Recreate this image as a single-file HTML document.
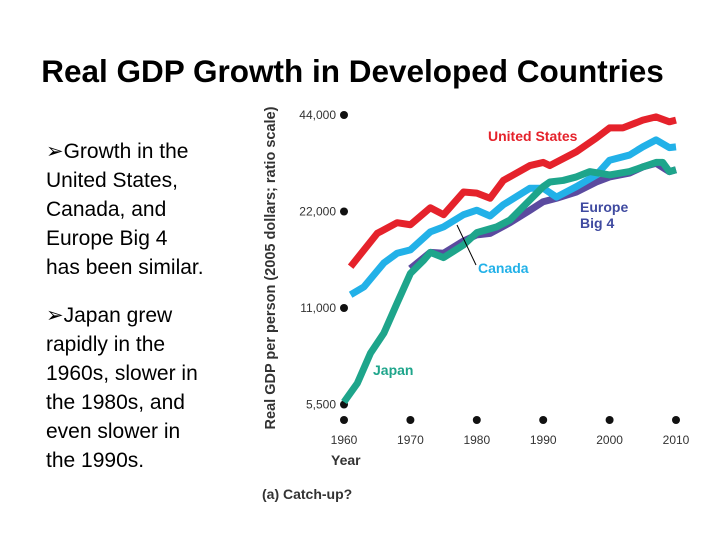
<!DOCTYPE html>
<html><head><meta charset="utf-8"><style>
body{margin:0;background:#fff;width:720px;height:540px;overflow:hidden;position:relative;font-family:"Liberation Sans",Arial,sans-serif}
#title{position:absolute;left:0;width:705px;top:53px;text-align:center;font-size:31.5px;font-weight:bold;color:#000;white-space:nowrap}
.bul{position:absolute;left:46px;font-size:21px;line-height:29px;color:#000}
svg{position:absolute;left:0;top:0}
</style></head><body>
<div id="title">Real GDP Growth in Developed Countries</div>
<div class="bul" style="top:137px">➢Growth in the<br>United States,<br>Canada, and<br>Europe Big 4<br>has been similar.</div>
<div class="bul" style="top:301px">➢Japan grew<br>rapidly in the<br>1960s, slower in<br>the 1980s, and<br>even slower in<br>the 1990s.</div>
<svg id="chart" width="720" height="540"></svg>
<script>
const xTicks=[1960,1970,1980,1990,2000,2010];
const yTicks=[5500,11000,22000,44000];
const yTickLabels=["5,500","11,000","22,000","44,000"];
const usYears=[1961,1965,1968,1970,1973,1975,1978,1980,1982,1984,1988,1990,1991,1995,1998,2000,2002,2005,2007,2009,2010];
const usVals=[14800,18800,20300,20000,22600,21500,25300,25100,24200,27500,30600,31300,30600,33800,37300,40100,40100,42400,43400,41900,42400];
const caYears=[1961,1963,1966,1968,1970,1973,1975,1978,1980,1982,1984,1988,1990,1992,1995,1998,2000,2003,2005,2007,2009,2010];
const caVals=[12100,12800,15200,16300,16700,19000,19700,21500,22200,21300,23100,26000,26000,24400,26300,28600,31800,33000,35000,36800,34800,35000];
const euYears=[1970,1973,1975,1978,1980,1982,1985,1988,1990,1992,1995,1998,2000,2003,2005,2007,2009,2010];
const euVals=[14600,16400,16300,17800,18600,18800,20300,22200,23600,24200,25300,27200,28200,29000,30300,31100,29300,29700];
const jpYears=[1960,1962,1964,1966,1968,1970,1972,1973,1975,1978,1980,1983,1985,1988,1990,1991,1993,1995,1997,2000,2003,2005,2007,2008,2009,2010];
const jpVals=[5600,6400,7960,9180,11400,14100,15500,16400,15800,17300,18900,19700,20700,23900,26300,27200,27500,28200,29300,28600,29300,30300,31300,31300,29300,29700];
const svg=document.getElementById('chart');const NS='http://www.w3.org/2000/svg';
const xS=y=>344+(y-1960)*6.64;
const yS=v=>115+Math.log2(44000/v)*96.5;
function mk(t,a,txt){const e=document.createElementNS(NS,t);for(const k in a)e.setAttribute(k,a[k]);if(txt!=null)e.textContent=txt;svg.appendChild(e);return e;}
yTicks.forEach((v,i)=>{
 const c=mk('circle',{cx:344,cy:yS(v),r:4,fill:'#111'});
 
 
 const t=mk('text',{x:336,y:yS(v)+4,'text-anchor':'end','font-size':12,fill:'#333'},yTickLabels[i]);
 
 
});
xTicks.forEach(v=>{
 const c=mk('circle',{cx:xS(v),cy:420,r:4,fill:'#111'});
 
 
 const t=mk('text',{x:xS(v),y:444,'text-anchor':'middle','font-size':12,fill:'#333'},String(v));
 
 
});
function line(ys,vs,col,name){
 const p=mk('polyline',{points:ys.map((y,i)=>xS(y)+','+yS(vs[i])).join(' '),fill:'none',stroke:col,'stroke-width':7,'stroke-linejoin':'round'});
 
 
}
line(euYears,euVals,'#5b4a9f','europe-line');
line(caYears,caVals,'#22b1e8','canada-line');
line(jpYears,jpVals,'#1ea58b','japan-line');
line(usYears,usVals,'#e5222b','us-line');
const l=mk('line',{x1:457,y1:225,x2:476,y2:265,stroke:'#000','stroke-width':1});


function lab(x,y,txt,col,name,anchor){const t=mk('text',{x:x,y:y,'font-size':14,'font-weight':'bold',fill:col,'text-anchor':anchor||'start'},txt);}
lab(488,141,'United States','#e5222b','us-label');
lab(478,273,'Canada','#22b1e8','canada-label');
lab(580,212,'Europe','#3f4aa0','europe-label');
lab(580,228,'Big 4','#3f4aa0','europe-label-2');
lab(373,375,'Japan','#1ea58b','japan-label');
lab(331,465,'Year','#333','x-axis-title');
lab(262,499,'(a) Catch-up?','#333','chart-caption');
const yt=mk('text',{x:0,y:0,'font-size':14.5,'font-weight':'bold',fill:'#333','text-anchor':'middle',transform:'translate(275,268) rotate(-90)'},'Real GDP per person (2005 dollars; ratio scale)');


</script>
</body></html>
